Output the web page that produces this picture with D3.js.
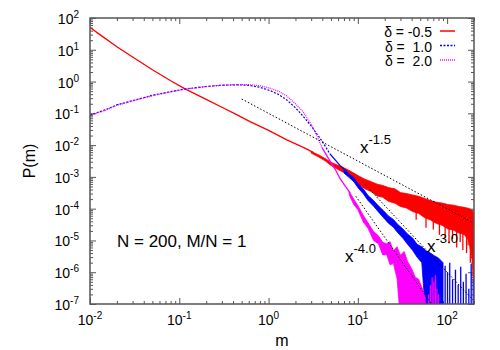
<!DOCTYPE html>
<html>
<head>
<meta charset="utf-8">
<script src="https://cdn.jsdelivr.net/npm/d3@7"></script>
<style>
  body { margin: 0; background: #fff; }
  text { font-family: "Liberation Sans", Arial, Helvetica, sans-serif; fill: #000; }
</style>
</head>
<body>
<div id="chart"></div>
<script>
// P(m) for three values of delta, log-log, N = 200, M/N = 1

// delta = -0.5 (smooth head, then noisy band)
var redM = [0.01, 0.0135, 0.02, 0.03, 0.05, 0.08, 0.116, 0.2, 0.3, 0.45, 0.62, 1.0, 1.6, 2.45, 3.2];
var redP = [50, 27.4, 12.5, 5.9, 2.35, 1.06, 0.59, 0.275, 0.155, 0.088, 0.055, 0.029, 0.0146, 8.5e-3, 5.8e-3];
var redBandM  = [3, 3.6, 4.3, 5, 5.8, 6.7, 7.8, 9, 10.5, 12, 14, 16.5, 19, 22, 26, 30, 35, 41, 48, 56, 65, 76, 88, 102, 118, 136, 155, 175, 190, 200];
var redBandHi = [6.3e-3, 5e-3, 3.8e-3, 2.9e-3, 2.4e-3, 2.04e-3, 1.66e-3, 1.32e-3, 1.02e-3, 8.5e-4, 7.1e-4, 5.9e-4, 5.4e-4, 4.6e-4, 4.2e-4,
                 3.2e-4, 3e-4, 2.7e-4, 2.45e-4, 2.1e-4, 1.8e-4, 1.6e-4, 1.5e-4, 1.35e-4, 1.29e-4, 1.17e-4, 1.1e-4, 1.02e-4, 8.9e-5, 7.1e-5];
var redBandLo = [5.6e-3, 4.3e-3, 3.2e-3, 2.3e-3, 1.8e-3, 1.45e-3, 1.15e-3, 7.1e-4, 5.5e-4, 4.2e-4, 3.5e-4, 2.5e-4, 2.3e-4, 1.7e-4, 1.48e-4,
                 1.17e-4, 1.05e-4, 8.1e-5, 7.1e-5, 5.2e-5, 4.4e-5, 3.4e-5, 3e-5, 2.3e-5, 2.1e-5, 1.7e-5, 1.55e-5, 1e-5, 2.5e-6, 2.5e-7];
var redSpikeM   = [45, 58, 70, 82, 95, 105, 115, 128, 140, 150, 165, 172, 182];
var redSpikeTop = [1.5e-4, 1.1e-4, 9e-5, 8e-5, 7e-5, 6e-5, 5.5e-5, 5e-5, 5e-5, 4.5e-5, 4.2e-5, 4e-5, 3.5e-5];
var redSpikeBot = [4.5e-5, 2.5e-5, 2.2e-5, 1.5e-5, 1.2e-5, 8e-6, 1.1e-5, 6e-6, 9e-6, 5e-6, 4e-6, 7e-6, 2e-6];

// delta = 1.0
var blueM = [0.01, 0.015, 0.02, 0.03, 0.05, 0.08, 0.116, 0.2, 0.3, 0.45, 0.6, 0.8, 1.04, 1.3, 1.6, 2.0, 2.45, 3.0, 3.5, 4.0, 4.87, 6.3, 7.5];
var blueP = [0.089, 0.13, 0.185, 0.25, 0.37, 0.48, 0.585, 0.7, 0.77, 0.79, 0.76, 0.66, 0.52, 0.39, 0.264, 0.15, 0.08, 0.04, 0.022, 0.013, 5.3e-3, 2.3e-3, 1.5e-3];
var blueBandM  = [7, 8, 9, 10, 11.5, 13, 15, 17, 19.5, 22, 25, 28, 32, 36, 41, 46, 52, 58, 65, 72, 80, 90];
var blueBandHi = [1.7e-3, 1.23e-3, 9.5e-4, 6.2e-4, 4.2e-4, 2.6e-4, 1.8e-4, 1.23e-4, 8.5e-5, 5.9e-5, 4.6e-5, 3.2e-5, 2.3e-5, 1.6e-5, 1.2e-5, 7.6e-6, 6.3e-6, 4.7e-6, 4e-6, 3.3e-6, 2.8e-6, 2e-6];
var blueBandLo = [1.32e-3, 9.5e-4, 7.1e-4, 4.6e-4, 2.95e-4, 1.8e-4, 1.2e-4, 7.9e-5, 5.1e-5, 3.5e-5, 2.6e-5, 1.74e-5, 1.17e-5, 7.6e-6, 4.9e-6, 3e-6, 2e-6, 3e-8, 3e-8, 3e-8, 3e-8, 3e-8];
var blueSpikeM   = [95, 101, 107, 115, 124, 133, 142, 152, 163, 175, 186, 196];
var blueSpikeTop = [1.6e-6, 1e-6, 2e-6, 6e-7, 1.2e-6, 4e-7, 1.5e-6, 5e-7, 9e-7, 3e-7, 1.8e-6, 6e-7];

// delta = 2.0
var magM = [0.01, 0.015, 0.02, 0.03, 0.05, 0.08, 0.116, 0.2, 0.3, 0.45, 0.6, 0.8, 1.04, 1.3, 1.6, 2.0, 2.45, 3.0, 3.4, 4.0, 4.87, 5.6, 6.3, 8.2];
var magP = [0.086, 0.125, 0.18, 0.245, 0.36, 0.47, 0.575, 0.69, 0.76, 0.8, 0.8, 0.74, 0.62, 0.49, 0.35, 0.2, 0.11, 0.045, 0.022, 8e-3, 3.2e-3, 1.7e-3, 9e-4, 3.1e-4];
var magBandM  = [8, 9, 10, 11.5, 13, 15, 17, 19, 21, 23, 25, 27.5, 30, 33, 36, 40, 44, 48, 53, 57];
var magBandHi = [3.5e-4, 2e-4, 1.26e-4, 6.2e-5, 3.6e-5, 1.9e-5, 1.4e-5, 8.7e-6, 7.9e-6, 9.1e-6, 4.8e-6, 6.3e-6, 3.4e-6, 4.5e-6, 2.2e-6, 1.3e-6, 7e-7, 6e-7, 3e-7, 1.6e-7];
var magBandLo = [2.75e-4, 1.35e-4, 9.3e-5, 3.8e-5, 2.4e-5, 1e-5, 7.9e-6, 3.5e-6, 3.6e-6, 1.7e-6, 1.9e-6, 6.3e-7, 3e-8, 3e-8, 3e-8, 3e-8, 3e-8, 3e-8, 3e-8, 3e-8];
var magSpikeM   = [62, 65, 68, 71, 74, 77, 80];
var magSpikeTop = [2e-7, 4e-7, 7e-7, 5e-7, 8e-7, 3e-7, 2e-7];

// guide lines x^-1.5, x^-3.0, x^-4.0 (end points)
var guideLabel = ["-1.5", "-3.0", "-4.0"];
var guideM1 = [0.5, 12, 9.5];
var guideP1 = [0.283, 5.8e-4, 2.45e-4];
var guideM2 = [200, 200, 67];
var guideP2 = [3.5e-5, 1.25e-7, 1e-7];

var legendLabels = ["\u03b4 = -0.5", "\u03b4 =\u00a0\u00a01.0", "\u03b4 =\u00a0\u00a02.0"];
var xExp = [-2, -1, 0, 1, 2];
var yExp = [-7, -6, -5, -4, -3, -2, -1, 0, 1, 2];

(function () {
    var width = 500, height = 350;
    var margin = { top: 18, right: 26, bottom: 46, left: 90 };
    var x0 = margin.left, x1 = width - margin.right,
        y0 = margin.top, y1 = height - margin.bottom;

    var svg = d3.select('#chart').append('svg')
        .attr('width', width).attr('height', height);

    var xScale = d3.scaleLog().domain([0.01, 200]).range([x0, x1]);
    var yScale = d3.scaleLog().domain([1e-7, 100]).range([y1, y0]);

    svg.append('clipPath').attr('id', 'clip')
        .append('rect').attr('x', x0).attr('y', y0)
        .attr('width', x1 - x0).attr('height', y1 - y0);

    // ticks (inside, mirrored)
    var major = function (e) { return Math.pow(10, e); };
    var xMajor = xExp.map(major), yMajor = yExp.map(major);
    var xMinor = [], yMinor = [];
    xExp.forEach(function (e) { for (var k = 2; k < 10; k++) { var v = k * Math.pow(10, e); if (v <= 200) xMinor.push(v); } });
    yExp.forEach(function (e) { if (e < 2) for (var k = 2; k < 10; k++) yMinor.push(k * Math.pow(10, e)); });

    function tickGroup(axis, tx, ty, vals, size) {
        svg.append('g').attr('class', 'ticks')
            .attr('transform', 'translate(' + tx + ',' + ty + ')')
            .call(axis.tickValues(vals).tickSize(size).tickFormat(''))
            .call(function (g) { g.select('.domain').remove(); });
    }
    tickGroup(d3.axisBottom(xScale), 0, y1, xMajor, -6);
    tickGroup(d3.axisBottom(xScale), 0, y1, xMinor, -3);
    tickGroup(d3.axisTop(xScale), 0, y0, xMajor, -6);
    tickGroup(d3.axisTop(xScale), 0, y0, xMinor, -3);
    tickGroup(d3.axisLeft(yScale), x0, 0, yMajor, -6);
    tickGroup(d3.axisLeft(yScale), x0, 0, yMinor, -3);
    tickGroup(d3.axisRight(yScale), x1, 0, yMajor, -6);
    tickGroup(d3.axisRight(yScale), x1, 0, yMinor, -3);
    svg.selectAll('.ticks line').attr('stroke', '#555').attr('stroke-width', 1);

    // tick labels 10^n
    xExp.forEach(function (e) {
        var t = svg.append('text').attr('x', xScale(major(e))).attr('y', y1 + 21)
            .attr('text-anchor', 'middle').style('font-size', '14px');
        t.append('tspan').text('10');
        t.append('tspan').attr('dy', -6).style('font-size', '10px').text(e);
    });
    yExp.forEach(function (e) {
        var t = svg.append('text').attr('x', x0 - 11).attr('y', yScale(major(e)) + 6)
            .attr('text-anchor', 'end').style('font-size', '14px');
        t.append('tspan').text('10');
        t.append('tspan').attr('dy', -6).style('font-size', '10px').text(e);
    });

    var plot = svg.append('g').attr('clip-path', 'url(#clip)');

    function zip(ms, ps) { return ms.map(function (m, i) { return [m, ps[i]]; }); }
    function zip3(ms, lo, hi) { return ms.map(function (m, i) { return [m, lo[i], hi[i]]; }); }
    var line = d3.line().x(function (d) { return xScale(d[0]); }).y(function (d) { return yScale(d[1]); });
    var band = d3.area()
        .x(function (d) { return xScale(d[0]); })
        .y0(function (d) { return yScale(d[1]); })
        .y1(function (d) { return yScale(d[2]); });

    function spikes(ms, top, bot, color) {
        plot.selectAll(null).data(zip3(ms, bot, top)).enter().append('line')
            .attr('x1', function (d) { return xScale(d[0]); })
            .attr('x2', function (d) { return xScale(d[0]); })
            .attr('y1', function (d) { return yScale(d[2]); })
            .attr('y2', function (d) { return d[1] ? yScale(d[1]) : y1; })
            .attr('stroke', color).attr('stroke-width', 1.3);
    }

    function series(ms, ps, cut, bandM, lo, hi, color, dash) {
        var pts = zip(ms, ps);
        plot.append('path').datum(pts.filter(function (d) { return d[0] <= cut; }))
            .attr('d', line).attr('fill', 'none').attr('stroke', color)
            .attr('stroke-width', 1.2).attr('stroke-dasharray', dash);
        plot.append('path').datum(pts.filter(function (d) { return d[0] >= cut; }))
            .attr('d', line).attr('fill', 'none').attr('stroke', color).attr('stroke-width', 1.3);
        plot.append('path').datum(zip3(bandM, lo, hi))
            .attr('d', band).attr('fill', color).attr('stroke', color).attr('stroke-width', 0.8);
    }
    series(redM, redP, 0.01, redBandM, redBandLo, redBandHi, '#ff0000', null);
    spikes(redSpikeM, redSpikeTop, redSpikeBot, '#ff0000');
    series(blueM, blueP, 4.87, blueBandM, blueBandLo, blueBandHi, '#0000ff', '2,1.5');
    spikes(blueSpikeM, blueSpikeTop, [], '#0000ff');
    series(magM, magP, 4.0, magBandM, magBandLo, magBandHi, '#ff00ff', '1,1');
    spikes(magSpikeM, magSpikeTop, [], '#ff00ff');

    // guide lines
    guideM1.forEach(function (m, i) {
        plot.append('path').datum([[m, guideP1[i]], [guideM2[i], guideP2[i]]])
            .attr('d', line).attr('fill', 'none').attr('stroke', '#000')
            .attr('stroke-width', 1).attr('stroke-dasharray', '1.5,2');
    });

    // border
    svg.append('rect').attr('x', x0).attr('y', y0)
        .attr('width', x1 - x0).attr('height', y1 - y0)
        .attr('fill', 'none').attr('stroke', '#555').attr('stroke-width', 1.5);

    // guide labels
    var guidePos = [[360, 153], [427, 252], [345, 262]];
    guideLabel.forEach(function (s, i) {
        var t = svg.append('text').attr('x', guidePos[i][0]).attr('y', guidePos[i][1])
            .style('font-size', '17px');
        t.append('tspan').text('x');
        t.append('tspan').attr('dy', -9).style('font-size', '13px').text(s);
    });

    svg.append('text').attr('x', 117).attr('y', 247).style('font-size', '17px')
        .text('N = 200, M/N = 1');

    // legend
    var legColors = ['#ff0000', '#0000ff', '#ff00ff'];
    var legDash = [null, '2,1.5', '1,1'];
    legendLabels.forEach(function (s, i) {
        var by = 37 + i * 14.5;
        svg.append('text').attr('x', 432).attr('y', by).attr('text-anchor', 'end')
            .style('font-size', '14px').text(s);
        svg.append('line').attr('x1', 440).attr('x2', 455).attr('y1', by - 6).attr('y2', by - 6)
            .attr('stroke', legColors[i]).attr('stroke-width', 1.5).attr('stroke-dasharray', legDash[i]);
    });

    // axis titles
    svg.append('text').attr('x', (x0 + x1) / 2).attr('y', 346).attr('text-anchor', 'middle')
        .style('font-size', '16px').text('m');
    svg.append('text').attr('transform', 'translate(35,' + (y0 + y1) / 2 + ') rotate(-90)')
        .attr('text-anchor', 'middle').style('font-size', '16px').text('P(m)');
})();
</script>
</body>
</html>
